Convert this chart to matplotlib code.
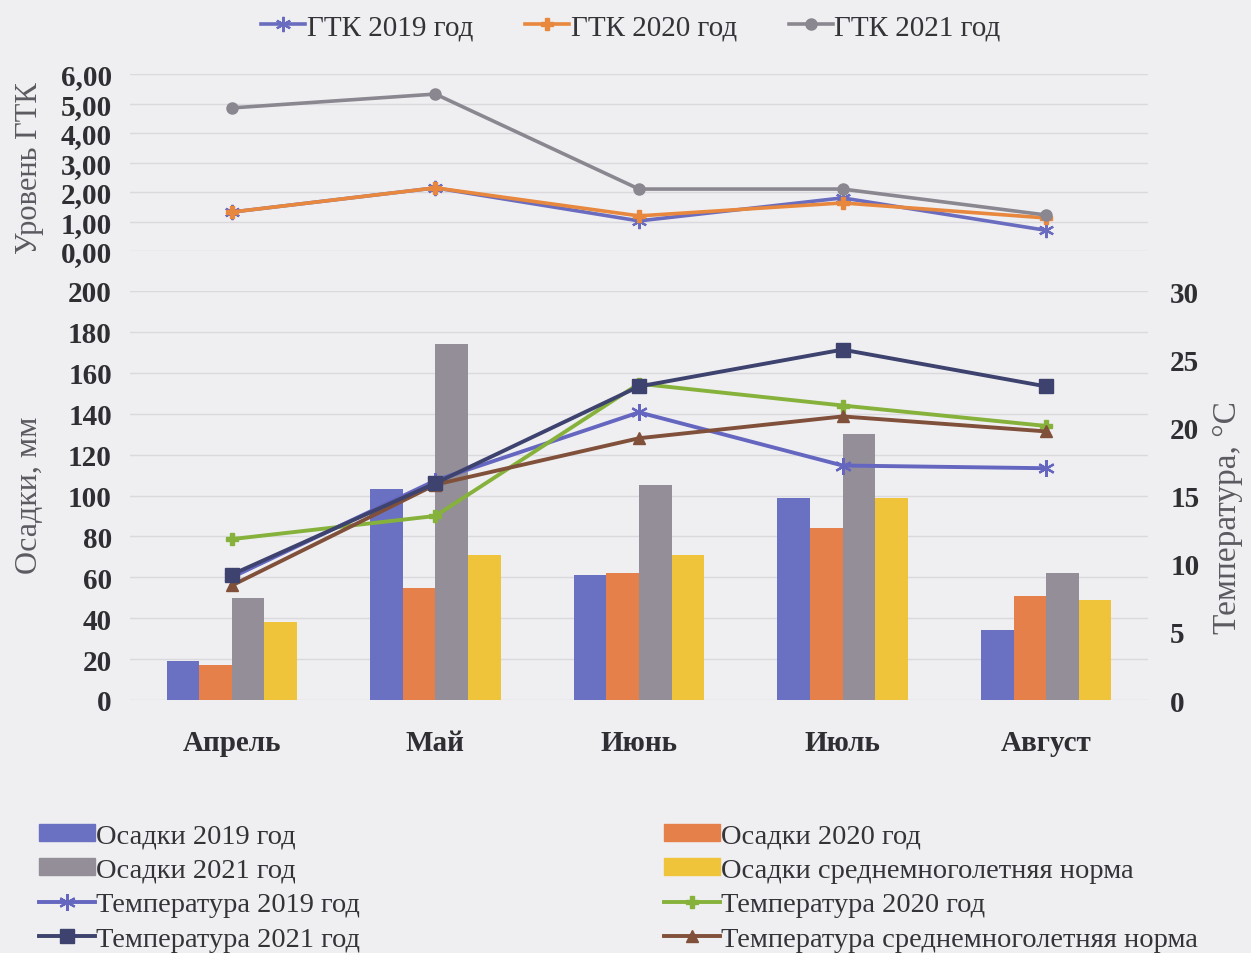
import numpy as np
import matplotlib
matplotlib.use("Agg")
import matplotlib.pyplot as plt
from matplotlib.lines import Line2D
from matplotlib.patches import Patch
from matplotlib.ticker import FuncFormatter, MultipleLocator

plt.rcParams['font.family'] = ['Liberation Serif', 'DejaVu Serif']

months = ["Апрель", "Май", "Июнь", "Июль", "Август"]

# Hydrothermal coefficient (ГТК)
gtk_2019 = [1.32, 2.14, 1.02, 1.80, 0.70]
gtk_2020 = [1.32, 2.14, 1.19, 1.63, 1.12]
gtk_2021 = [4.85, 5.32, 2.10, 2.10, 1.22]

# Precipitation, mm
rain_2019 = [19, 103, 61, 99, 34]
rain_2020 = [17, 55, 62, 84, 51]
rain_2021 = [50, 174, 105, 130, 62]
rain_norm = [38, 71, 71, 99, 49]

# Mean air temperature, °C
temp_2019 = [9.0, 16.1, 21.1, 17.2, 17.0]
temp_2020 = [11.8, 13.5, 23.2, 21.6, 20.1]
temp_2021 = [9.2, 15.9, 23.0, 25.7, 23.0]
temp_norm = [8.4, 15.8, 19.2, 20.8, 19.7]

BG = "#efeff1"
GRID = "#d9d9de"
TICK = "#2f2f33"
LABEL = "#5a5a60"
FS = 21

c_b19, c_b20, c_b21, c_bn = "#6a70c2", "#e5804a", "#938e98", "#f0c43a"
c_t19, c_t20, c_t21, c_tn = "#6466c0", "#86b23c", "#3d426e", "#80503a"
c_g19, c_g20, c_g21 = "#6a6cc0", "#e8873e", "#8b8790"

star = (6, 2, 0)

fig = plt.figure(figsize=(12.51, 9.54), dpi=100, facecolor=BG)
W, H = 1251, 954

def axes_px(x0, y0, x1, y1):
    return fig.add_axes([x0 / W, 1 - y1 / H, (x1 - x0) / W, (y1 - y0) / H])

x = np.arange(len(months))

# ---- upper panel: ГТК ----
axg = axes_px(130, 75, 1148, 252)
axg.set_facecolor("none")
axg.plot(x, gtk_2019, color=c_g19, lw=2.6, marker=star, ms=11, mew=1.6, label="ГТК 2019 год", zorder=3)
axg.plot(x, gtk_2020, color=c_g20, lw=2.6, marker="P", ms=8, label="ГТК 2020 год", zorder=4)
axg.plot(x, gtk_2021, color=c_g21, lw=2.6, marker="o", ms=8, label="ГТК 2021 год", zorder=5)
axg.set_xlim(-0.5, len(months) - 0.5)
axg.set_ylim(0, 6)
axg.yaxis.set_major_locator(MultipleLocator(1))
axg.yaxis.set_major_formatter(FuncFormatter(lambda v, p: f"{v:.2f}".replace(".", ",")))
axg.set_xticks([])
axg.grid(axis="y", color=GRID, lw=1.0)
axg.set_axisbelow(True)
for s in axg.spines.values():
    s.set_visible(False)
axg.tick_params(axis="y", length=0, pad=13, labelsize=FS, labelcolor=TICK)
for t in axg.get_yticklabels():
    t.set_fontweight("bold")

fig.legend(handles=axg.get_lines(), loc="center", bbox_to_anchor=(631 / W, 1 - 28 / H),
           ncol=3, frameon=False, fontsize=FS, handlelength=1.5, handletextpad=0.05,
           columnspacing=1.8, labelcolor="#333338")

# ---- lower panel: precipitation bars and temperature lines ----
ax = axes_px(130, 292, 1148, 701)
ax.set_facecolor("none")
bw = 0.16
for i, (vals, col) in enumerate([(rain_2019, c_b19), (rain_2020, c_b20),
                                  (rain_2021, c_b21), (rain_norm, c_bn)]):
    ax.bar(x + (i - 1.5) * bw, vals, width=bw, color=col, zorder=2)
ax.set_xlim(-0.5, len(months) - 0.5)
ax.set_ylim(0, 200)
ax.yaxis.set_major_locator(MultipleLocator(20))
ax.set_xticks(x)
ax.set_xticklabels(months, fontsize=FS, fontweight="bold", color=TICK)
ax.grid(axis="y", color=GRID, lw=1.0)
ax.set_axisbelow(True)
for s in ax.spines.values():
    s.set_visible(False)
ax.tick_params(axis="y", length=0, pad=13, labelsize=FS, labelcolor=TICK)
ax.tick_params(axis="x", length=0, pad=21)
for t in ax.get_yticklabels():
    t.set_fontweight("bold")

ax2 = ax.twinx()
ax2.plot(x, temp_2019, color=c_t19, lw=2.8, marker=star, ms=12, mew=1.6, zorder=3)
ax2.plot(x, temp_2020, color=c_t20, lw=2.8, marker="P", ms=8, zorder=4)
ax2.plot(x, temp_norm, color=c_tn, lw=2.8, marker="^", ms=9, zorder=5)
ax2.plot(x, temp_2021, color=c_t21, lw=2.8, marker="s", ms=10, zorder=6)
ax2.set_ylim(0, 30)
ax2.yaxis.set_major_locator(MultipleLocator(5))
for s in ax2.spines.values():
    s.set_visible(False)
ax2.tick_params(axis="y", length=0, pad=16, labelsize=FS, labelcolor=TICK)
for t in ax2.get_yticklabels():
    t.set_fontweight("bold")

# axis titles
fig.text(30 / W, 1 - 168 / H, "Уровень ГТК", rotation=90, ha="center", va="center",
         fontsize=22, color=LABEL)
fig.text(30 / W, 1 - 495 / H, "Осадки, мм", rotation=90, ha="center", va="center",
         fontsize=23, color=LABEL)
fig.text(1228 / W, 1 - 518 / H, "Температура, °С", rotation=90, ha="center", va="center",
         fontsize=24, color=LABEL)

# ---- lower legend in two columns ----
def line_handle(col, mk, ms, **kw):
    return Line2D([], [], color=col, lw=2.8, marker=mk, ms=ms, **kw)

left_entries = [
    (Patch(color=c_b19), "Осадки 2019 год"),
    (Patch(color=c_b21), "Осадки 2021 год"),
    (line_handle(c_t19, star, 12, mew=1.6), "Температура 2019 год"),
    (line_handle(c_t21, "s", 10), "Температура 2021 год"),
]
right_entries = [
    (Patch(color=c_b20), "Осадки 2020 год"),
    (Patch(color=c_bn), "Осадки среднемноголетняя норма"),
    (line_handle(c_t20, "P", 8), "Температура 2020 год"),
    (line_handle(c_tn, "^", 9), "Температура среднемноголетняя норма"),
]
for entries, x0 in [(left_entries, 28), (right_entries, 653)]:
    fig.legend(handles=[e[0] for e in entries], labels=[e[1] for e in entries],
               loc="upper left", bbox_to_anchor=(x0 / W, 1 - 813 / H),
               frameon=False, fontsize=20.5, handlelength=1.95, handleheight=0.55,
               handletextpad=0.05, labelspacing=0.33, borderaxespad=0,
               labelcolor="#333338")

fig.savefig("out.png", dpi=100, facecolor=BG)
